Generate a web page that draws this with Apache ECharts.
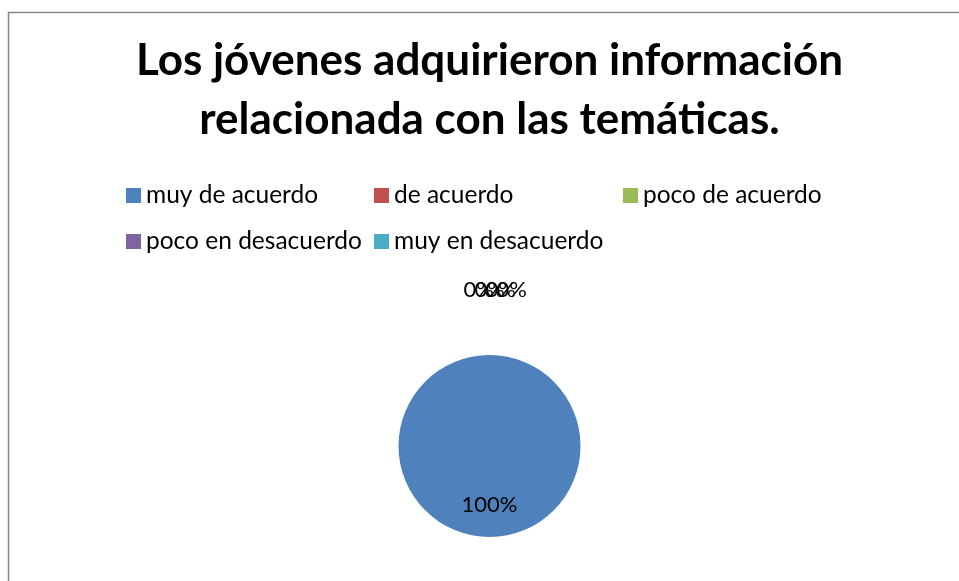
<!DOCTYPE html>
<html>
<head>
<meta charset="utf-8">
<script src="https://cdn.jsdelivr.net/npm/echarts@6/dist/echarts.min.js"></script>
<style>
  html, body { margin: 0; padding: 0; background: #fff; overflow: hidden; }
  #main { width: 979px; height: 600px; }
</style>
</head>
<body>
<div id="main"></div>
<script>
// datos de la encuesta
var titulo = 'Los jóvenes adquirieron información\nrelacionada con las temáticas.';
var categorias = ['muy de acuerdo', 'de acuerdo', 'poco de acuerdo', 'poco en desacuerdo', 'muy en desacuerdo'];
var valores = [100, 0, 0, 0, 0];
var colores = ['#4F81BD', '#C0504D', '#9BBB59', '#8064A2', '#4BACC6'];

var fuente = 'Lato, "Open Sans", sans-serif';

function getData() {
  return categorias.map(function (c, i) {
    return {
      name: c,
      value: valores[i],
      label: { position: valores[i] > 0 ? 'inside' : 'outside' }
    };
  });
}

// desplazamiento de las etiquetas de 0% (se enciman en el original)
var dxCeros = [0, -31, -20, -9, 2];

var chart = echarts.init(document.getElementById('main'));

// leyenda en rejilla: 3 columnas fijas, 2 filas
var colLeft = [121, 369, 618];
var rowTop = [178, 224];
var leyendas = categorias.map(function (c, i) {
  return {
    orient: 'horizontal',
    left: colLeft[i % 3],
    top: rowTop[Math.floor(i / 3)],
    icon: 'rect',
    itemWidth: 15,
    itemHeight: 15,
    textStyle: { fontFamily: fuente, fontSize: 24.5, color: '#000' },
    data: [c]
  };
});

var option = {
  color: colores,
  animation: false,
  title: {
    text: titulo,
    left: 'center',
    top: 26,
    textStyle: { fontFamily: fuente, fontSize: 44, fontWeight: 'bold', color: '#000', lineHeight: 59 }
  },
  legend: leyendas,
  graphic: [{
    type: 'rect',
    shape: { x: 8.5, y: 12.5, width: 1000, height: 1000 },
    style: { fill: 'none', stroke: '#868686', lineWidth: 1.5 },
    silent: true
  }],
  series: [{
    name: 'respuestas',
    type: 'pie',
    center: ['50%', 446],
    radius: 91,
    startAngle: 90,
    avoidLabelOverlap: false,
    label: {
      show: true,
      formatter: '{d}%',
      fontFamily: fuente,
      fontSize: 22,
      color: '#000'
    },
    labelLine: { show: false, length: 65, length2: 0 },
    labelLayout: function (p) {
      if (valores[p.dataIndex] > 0) return { dy: 10 };
      return { dx: dxCeros[p.dataIndex] };
    },
    itemStyle: { borderWidth: 0 },
    emphasis: { disabled: true },
    data: getData()
  }]
};

chart.setOption(option);
</script>
</body>
</html>
